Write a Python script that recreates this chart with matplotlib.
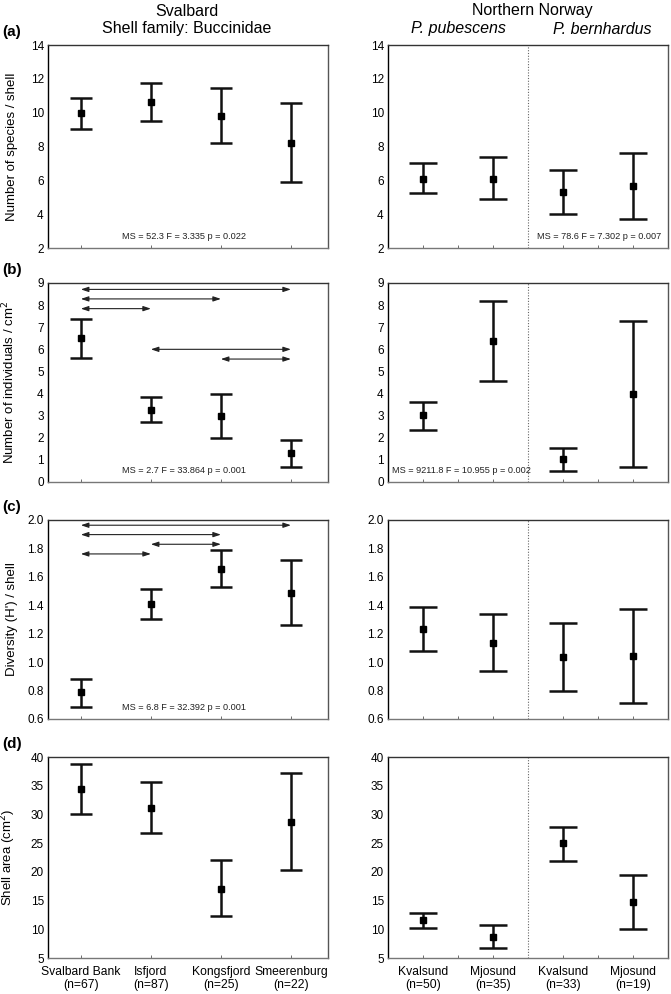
import matplotlib
matplotlib.use('Agg')
import matplotlib.pyplot as plt

plt.rcParams['font.family'] = ['Liberation Sans', 'DejaVu Sans']

# Svalbard (Buccinidae)
sval_cats = ['Svalbard Bank\n(n=67)', 'Isfjord\n(n=87)', 'Kongsfjord\n(n=25)', 'Smeerenburg\n(n=22)']
# Northern Norway (P. pubescens: Kvalsund, Mjosund; P. bernhardus: Kvalsund, Mjosund)
nor_cats = ['Kvalsund\n(n=50)', 'Mjosund\n(n=35)', 'Kvalsund\n(n=33)', 'Mjosund\n(n=19)']

# (a) number of species / shell: mean, lower, upper
a_sval_mean = [10.0, 10.65, 9.78, 8.2]
a_sval_lo = [9.05, 9.52, 8.18, 5.9]
a_sval_hi = [10.89, 11.78, 11.43, 10.57]
a_nor_mean = [6.1, 6.1, 5.3, 5.65]
a_nor_lo = [5.23, 4.88, 4.0, 3.7]
a_nor_hi = [7.0, 7.36, 6.6, 7.6]

# (b) number of individuals / cm2
b_sval_mean = [6.5, 3.27, 3.0, 1.29]
b_sval_lo = [5.6, 2.71, 1.97, 0.66]
b_sval_hi = [7.36, 3.84, 4.0, 1.9]
b_nor_mean = [3.01, 6.38, 1.02, 3.96]
b_nor_lo = [2.36, 4.55, 0.5, 0.66]
b_nor_hi = [3.63, 8.19, 1.55, 7.27]

# (c) diversity (H') / shell
c_sval_mean = [0.787, 1.407, 1.658, 1.489]
c_sval_lo = [0.686, 1.30, 1.53, 1.262]
c_sval_hi = [0.878, 1.517, 1.787, 1.719]
c_nor_mean = [1.232, 1.136, 1.033, 1.042]
c_nor_lo = [1.075, 0.937, 0.794, 0.71]
c_nor_hi = [1.389, 1.34, 1.274, 1.377]

# (d) shell area (cm2)
d_sval_mean = [34.4, 31.15, 17.05, 28.65]
d_sval_lo = [30.04, 26.84, 12.28, 20.26]
d_sval_hi = [38.7, 35.6, 22.0, 37.15]
d_nor_mean = [11.58, 8.73, 24.97, 14.72]
d_nor_lo = [10.18, 6.69, 21.89, 10.06]
d_nor_hi = [12.9, 10.82, 27.89, 19.44]

# significant pairwise differences (from, to, y)
b_pairs = [(1, 4, 8.71), (1, 3, 8.28), (1, 2, 7.84), (2, 4, 6.0), (3, 4, 5.56)]
c_pairs = [(1, 4, 1.963), (1, 3, 1.897), (2, 3, 1.829), (1, 2, 1.761)]

stats = {
    ('a', 'L'): 'MS = 52.3 F = 3.335 p = 0.022',
    ('a', 'R'): 'MS = 78.6 F = 7.302 p = 0.007',
    ('b', 'L'): 'MS = 2.7 F = 33.864 p = 0.001',
    ('b', 'R'): 'MS = 9211.8 F = 10.955 p = 0.002',
    ('c', 'L'): 'MS = 6.8 F = 32.392 p = 0.001',
}

panels = [
    ('a', 'Number of species / shell', (2, 14), [2, 4, 6, 8, 10, 12, 14], '%d',
     (a_sval_mean, a_sval_lo, a_sval_hi), (a_nor_mean, a_nor_lo, a_nor_hi), None),
    ('b', 'Number of individuals / cm$^2$', (0, 9), list(range(0, 10)), '%d',
     (b_sval_mean, b_sval_lo, b_sval_hi), (b_nor_mean, b_nor_lo, b_nor_hi), b_pairs),
    ('c', "Diversity (H') / shell", (0.6, 2.0), [0.6, 0.8, 1.0, 1.2, 1.4, 1.6, 1.8, 2.0], '%.1f',
     (c_sval_mean, c_sval_lo, c_sval_hi), (c_nor_mean, c_nor_lo, c_nor_hi), c_pairs),
    ('d', 'Shell area (cm$^2$)', (5, 40), [5, 10, 15, 20, 25, 30, 35, 40], '%d',
     (d_sval_mean, d_sval_lo, d_sval_hi), (d_nor_mean, d_nor_lo, d_nor_hi), None),
]

rows_y = [(0.7505, 0.2042), (0.5151, 0.2002), (0.2767, 0.2002), (0.0362, 0.2022)]

fig = plt.figure(figsize=(6.71, 9.94), dpi=100)
x = [1, 2, 3, 4]


def style_axes(ax, ylim, yticks, fmt):
    ax.set_ylim(*ylim)
    ax.set_yticks(yticks)
    ax.set_yticklabels([fmt % t for t in yticks], fontsize=8.5)
    ax.set_xticks(x)
    ax.tick_params(axis='x', direction='in', length=2, width=0.6, color='#555555')
    ax.tick_params(axis='y', length=0, pad=3)
    ax.spines['left'].set_color('black')
    ax.spines['top'].set_color('#333333')
    ax.spines['right'].set_color('#555555')
    ax.spines['bottom'].set_color('#777777')
    for s in ax.spines.values():
        s.set_linewidth(1.0)


def draw_err(ax, mean, lo, hi, cap):
    err = [[m - l for m, l in zip(mean, lo)], [h - m for m, h in zip(mean, hi)]]
    ax.errorbar(x, mean, yerr=err, fmt='s', color='black', ms=5,
                elinewidth=1.8, capsize=cap, capthick=1.8, ecolor='#111111')


for i, (lab, ylab, ylim, yticks, fmt, sval, nor, pairs) in enumerate(panels):
    y0, h = rows_y[i]
    axL = fig.add_axes([0.0715, y0, 0.4173, h])
    axR = fig.add_axes([0.5782, y0, 0.4173, h])

    axL.set_xlim(0.53, 4.53)
    axR.set_xlim(0.5, 4.5)
    style_axes(axL, ylim, yticks, fmt)
    style_axes(axR, ylim, yticks, fmt)
    axR.set_xticks([1.5, 3.5], minor=True)
    axR.tick_params(axis='x', which='minor', direction='in', length=2, width=0.6, color='#555555')

    draw_err(axL, *sval, cap=8)
    draw_err(axR, *nor, cap=10)
    axR.axvline(2.5, color='#666666', lw=0.8, ls=(0, (1, 1.5)))

    axL.set_ylabel(ylab, fontsize=9.5)
    axL.yaxis.set_label_coords(-0.108, 0.5)

    if pairs:
        for a0, a1, yy in pairs:
            axL.annotate('', xy=(a1, yy), xytext=(a0, yy),
                         arrowprops=dict(arrowstyle='<|-|>,head_length=0.45,head_width=0.15',
                                         color='#222222', lw=0.8, shrinkA=0, shrinkB=0))

    if (lab, 'L') in stats:
        axL.text(0.485, 0.058, stats[(lab, 'L')], transform=axL.transAxes,
                 ha='center', va='center', fontsize=6.6, color='#222222')
    if (lab, 'R') in stats:
        if lab == 'a':
            axR.text(0.975, 0.058, stats[(lab, 'R')], transform=axR.transAxes,
                     ha='right', va='center', fontsize=6.6, color='#222222')
        else:
            axR.text(0.015, 0.058, stats[(lab, 'R')], transform=axR.transAxes,
                     ha='left', va='center', fontsize=6.6, color='#222222')

    fig.text(0.004, y0 + h + 0.013, '(%s)' % lab, fontsize=11, fontweight='bold',
             ha='left', va='center')

    if lab == 'd':
        axL.set_xticklabels(sval_cats, fontsize=8.7, linespacing=1.05)
        axR.set_xticklabels(nor_cats, fontsize=8.7, linespacing=1.05)
        axL.tick_params(axis='x', pad=6)
        axR.tick_params(axis='x', pad=6)
    else:
        axL.set_xticklabels([])
        axR.set_xticklabels([])

# column headers
fig.text(187 / 671, 1 - 11 / 994, 'Svalbard', fontsize=11.5, ha='center', va='center')
fig.text(187 / 671, 1 - 29 / 994, 'Shell family: Buccinidae', fontsize=11.5, ha='center', va='center')
fig.text(532 / 671, 1 - 11 / 994, 'Northern Norway', fontsize=11.5, ha='center', va='center')
fig.text(458 / 671, 1 - 29 / 994, 'P. pubescens', fontsize=11.5, style='italic', ha='center', va='center')
fig.text(602 / 671, 1 - 29 / 994, 'P. bernhardus', fontsize=11.5, style='italic', ha='center', va='center')

fig.savefig('out.png', dpi=100)
